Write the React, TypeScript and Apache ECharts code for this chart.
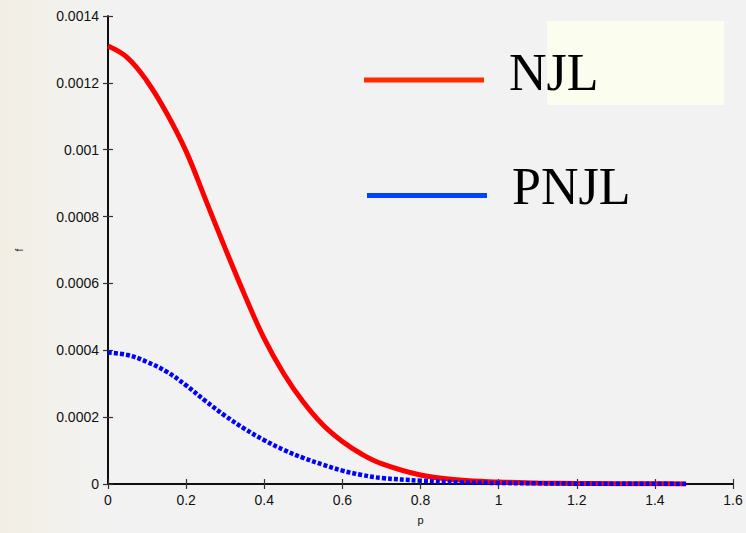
import React, { useEffect, useRef } from "react";
import * as echarts from "echarts";

const pValues = [0, 0.05, 0.1, 0.15, 0.2, 0.25, 0.3, 0.35, 0.4, 0.45, 0.5, 0.55, 0.6, 0.65, 0.7, 0.8, 0.9, 1.0, 1.1, 1.2, 1.3, 1.4, 1.48];
const njlValues = [0.00131, 0.001275, 0.001205, 0.00111, 0.000995, 0.00085, 0.000705, 0.000565, 0.000435, 0.00033, 0.000245, 0.000177, 0.000127, 0.000089, 0.000061, 0.000027, 0.000012, 0.000006, 0.000003, 0.0000015, 0.000001, 0.0000005, 0.0000003];
const pnjlValues = [0.000393, 0.000386, 0.000365, 0.000336, 0.000295, 0.000248, 0.000204, 0.000165, 0.000131, 0.000102, 0.000078, 0.000058, 0.00004, 0.000027, 0.000018, 0.00001, 0.000005, 0.000003, 0.000002, 0.000001, 0.0000007, 0.0000005, 0.0000003];
const seriesNames = ["NJL", "PNJL"];
const xTicks = { min: 0, max: 1.6, interval: 0.2 };
const yTicks = { min: 0, max: 0.0014, interval: 0.0002 };

const fmt = (v: number) => String(parseFloat(v.toPrecision(6)));

export default function App() {
  const ref = useRef<HTMLDivElement>(null);
  useEffect(() => {
    if (!ref.current) return;
    const chart = echarts.init(ref.current, null, { renderer: "svg" });
    const labelStyle = { fontFamily: "Liberation Sans", fontSize: 14, color: "#111" };
    const axisLine = { show: true, lineStyle: { color: "#000", width: 1.5 } };
    const axisTick = { show: true, inside: true, length: 5, lineStyle: { color: "#333", width: 1.2 } };
    chart.setOption({
      animation: false,
      backgroundColor: "transparent",
      grid: { left: 108, right: 13, top: 16, bottom: 49 },
      xAxis: [
        {
          type: "value", ...xTicks, position: "bottom",
          name: "p", nameLocation: "middle", nameGap: 30,
          nameTextStyle: { fontFamily: "Liberation Sans", fontSize: 11, color: "#111" },
          axisLine, axisTick, splitLine: { show: false },
          axisLabel: { ...labelStyle, margin: 9, formatter: fmt },
        },
        {
          type: "value", ...xTicks, position: "top",
          axisLine, axisTick, splitLine: { show: false }, axisLabel: { show: false },
        },
      ],
      yAxis: [
        {
          type: "value", ...yTicks, position: "left",
          name: "f", nameLocation: "middle", nameGap: 84,
          nameTextStyle: { fontFamily: "Liberation Sans", fontSize: 10, color: "#111" },
          axisLine, axisTick, splitLine: { show: false },
          axisLabel: { ...labelStyle, margin: 9, formatter: fmt },
        },
        {
          type: "value", ...yTicks, position: "right",
          axisLine, axisTick, splitLine: { show: false }, axisLabel: { show: false },
        },
      ],
      graphic: [
        { type: "rect", shape: { x: 547, y: 21, width: 177, height: 84 }, style: { fill: "#fbfdef" }, z: 1 },
        { type: "line", shape: { x1: 364, y1: 80, x2: 484, y2: 80 }, style: { stroke: "#ff2a00", lineWidth: 5 }, z: 2 },
        { type: "text", x: 509, y: 98, style: { text: seriesNames[0], font: "52px 'Liberation Serif'", fill: "#000", textVerticalAlign: "bottom" }, z: 2 },
        { type: "line", shape: { x1: 367, y1: 195.5, x2: 487, y2: 195.5 }, style: { stroke: "#0044ff", lineWidth: 5 }, z: 2 },
        { type: "text", x: 512, y: 212, style: { text: seriesNames[1], font: "52px 'Liberation Serif'", fill: "#000", textVerticalAlign: "bottom" }, z: 2 },
      ],
      series: [
        {
          name: seriesNames[0], type: "line", xAxisIndex: 0, yAxisIndex: 0,
          data: pValues.map((p, i) => [p, njlValues[i]]),
          showSymbol: false, smooth: 0.4,
          lineStyle: { color: "#ff0000", width: 5 }, z: 3,
        },
        {
          name: seriesNames[1], type: "line", xAxisIndex: 0, yAxisIndex: 0,
          data: pValues.map((p, i) => [p, pnjlValues[i]]),
          showSymbol: false, smooth: 0.4,
          lineStyle: { color: "#0000ff", width: 4.5, type: [4, 2], cap: "butt" }, z: 4,
        },
      ],
    });
    return () => chart.dispose();
  }, []);
  return (
    <div
      style={{
        position: "fixed", left: 0, top: 0, width: 746, height: 533,
        background: "linear-gradient(to right, #f2eee4 0px, #f2f1ec 60px, #f2f2f2 110px, #f2f2f2 100%)",
      }}
    >
      <div ref={ref} style={{ width: 746, height: 533 }} />
    </div>
  );
}
